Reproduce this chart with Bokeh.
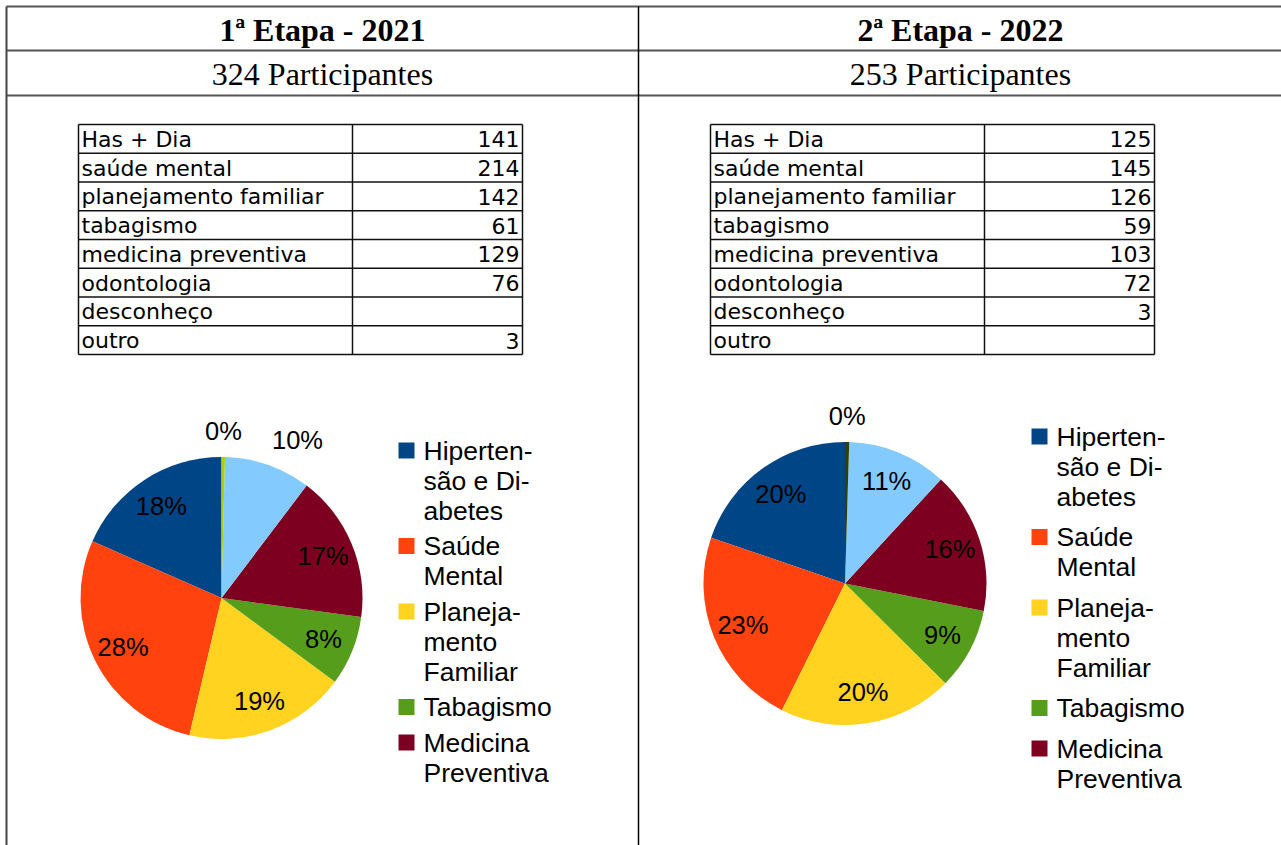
import math
from bokeh.plotting import figure
from bokeh.models import Range1d, ColumnDataSource
from bokeh.core.properties import value
from bokeh.embed import file_html
from bokeh.resources import INLINE

# ---------------- data ----------------
table_labels = ["Has + Dia", "saúde mental", "planejamento familiar", "tabagismo",
                "medicina preventiva", "odontologia", "desconheço", "outro"]
counts_2021 = [141, 214, 142, 61, 129, 76, None, 3]
counts_2022 = [125, 145, 126, 59, 103, 72, 3, None]
slice_colors = ["#004586", "#ff420e", "#ffd320", "#579d1c",
                "#7e0021", "#83caff", "#314004", "#aecf00"]
legend_labels = ["Hiperten-\nsão e Di-\nabetes", "Saúde\nMental",
                 "Planeja-\nmento\nFamiliar", "Tabagismo", "Medicina\nPreventiva"]
stage_titles = ["1ª Etapa - 2021", "2ª Etapa - 2022"]
participants = [324, 253]

# ---------------- figure (1 data unit = 1 page pixel) ----------------
W, H = 1281, 845
p = figure(width=W, height=H, x_range=Range1d(0, W), y_range=Range1d(-H, 0),
           output_backend="svg", toolbar_location=None,
           x_axis_location=None, y_axis_location=None, min_border=0)
p.grid.visible = False
p.outline_line_color = None
p.background_fill_color = "white"
p.border_fill_color = "white"

SANS = value("Liberation Sans")
SERIF = value("Liberation Serif")
TABLE_FONT = value("DejaVu Sans")


def add_text(xs, ys, texts, size, font=SANS, align="left", baseline="middle", style="normal"):
    p.text(x=list(xs), y=[-y for y in ys], text=list(texts), text_font=font,
           text_font_size=f"{size}px", text_align=align, text_baseline=baseline,
           text_font_style=style, text_color="black")


def segs(x0, y0, x1, y1, color, width):
    p.segment(x0=x0, y0=[-v for v in y0], x1=x1, y1=[-v for v in y1],
              line_color=color, line_width=width)


# document frame
segs([6, 6, 6], [6, 50, 95], [W, W, W], [6, 50, 95], "#555555", 2)
segs([6], [6], [6], [H], "#444444", 2)
segs([638], [6], [638], [H], "#000000", 1.5)

panels = [
    dict(center=322, table_x=78, cx=221, cy=597.5, R=141, lx=398, ly=450, gap=5.5),
    dict(center=960, table_x=710, cx=844.5, cy=583, R=141.5, lx=1031, ly=436, gap=10.5),
]

for i, (pan, counts) in enumerate(zip(panels, [counts_2021, counts_2022])):
    # headers
    add_text([pan["center"]], [29], [stage_titles[i]], 32, SERIF, "center", style="bold")
    add_text([pan["center"]], [73], [f"{participants[i]} Participantes"], 32, SERIF, "center")

    # data table
    tx = pan["table_x"]
    top, rh, n = 124, 28.75, len(table_labels)
    cols = [tx, tx + 274, tx + 444]
    segs(cols, [top] * 3, cols, [top + n * rh] * 3, "#111111", 1.5)
    rows = [top + r * rh for r in range(n + 1)]
    segs([tx] * (n + 1), rows, [tx + 444] * (n + 1), rows, "#111111", 1.5)
    ys = [top + (r + 0.5) * rh + 0.5 for r in range(n)]
    add_text([tx + 3] * n, ys, table_labels, 22, TABLE_FONT)
    add_text([tx + 441] * n, ys, ["" if v is None else str(v) for v in counts], 22,
             TABLE_FONT, "right")

    # pie
    vals = [0 if v is None else v for v in counts]
    total = sum(vals)
    cx, cy, R = pan["cx"], pan["cy"], pan["R"]
    starts, ends, colors = [], [], []
    acc = 0.0
    lab_x, lab_y, lab_t = [], [], []
    out = []
    for k, v in enumerate(vals):
        if v == 0:
            continue
        a0 = math.pi / 2 + 2 * math.pi * acc / total
        acc += v
        a1 = math.pi / 2 + 2 * math.pi * acc / total
        starts.append(a0)
        ends.append(a1)
        colors.append(slice_colors[k])
        mid = (a0 + a1) / 2
        txt = f"{round(100 * v / total)}%"
        r_in = 0.78 * R
        chord = 2 * r_in * math.sin((a1 - a0) / 2)
        w_est = 25 * (0.556 * (len(txt) - 1) + 0.889)
        if w_est <= 0.7 * chord:
            lab_x.append(cx + r_in * math.cos(mid))
            lab_y.append(cy - r_in * math.sin(mid))
            lab_t.append(txt)
        else:
            out.append((mid, txt))
    src = ColumnDataSource(dict(start=starts, end=ends, color=colors))
    p.wedge(x=cx, y=-cy, radius=R, start_angle="start", end_angle="end",
            direction="anticlock", fill_color="color", line_color=None, source=src)
    add_text(lab_x, lab_y, lab_t, 25.5, SANS, "center")
    for mid, txt in out:
        r_out = R + 12
        c, s = math.cos(mid), math.sin(mid)
        align = "left" if c > 0.2 else ("right" if c < -0.2 else "center")
        base = "bottom" if s > 0.2 else ("top" if s < -0.2 else "middle")
        add_text([cx + r_out * c], [cy - r_out * s], [txt], 25.5, SANS, align, base)

    # legend
    lx, y_cur = pan["lx"], pan["ly"]
    sq_x, sq_y, sq_c, tx_x, tx_y, tx_t = [], [], [], [], [], []
    for k, label in enumerate(legend_labels):
        lines = label.split("\n")
        sq_x.append(lx + 8)
        sq_y.append(-y_cur)
        sq_c.append(slice_colors[k])
        for j, line in enumerate(lines):
            tx_x.append(lx + 25)
            tx_y.append(y_cur + j * 30)
            tx_t.append(line)
        y_cur += len(lines) * 30 + pan["gap"]
    p.rect(x=sq_x, y=sq_y, width=16, height=16, fill_color=sq_c, line_color=None)
    add_text(tx_x, tx_y, tx_t, 26.5, SANS, "left")

open("out.html", "w").write(file_html(p, INLINE))
